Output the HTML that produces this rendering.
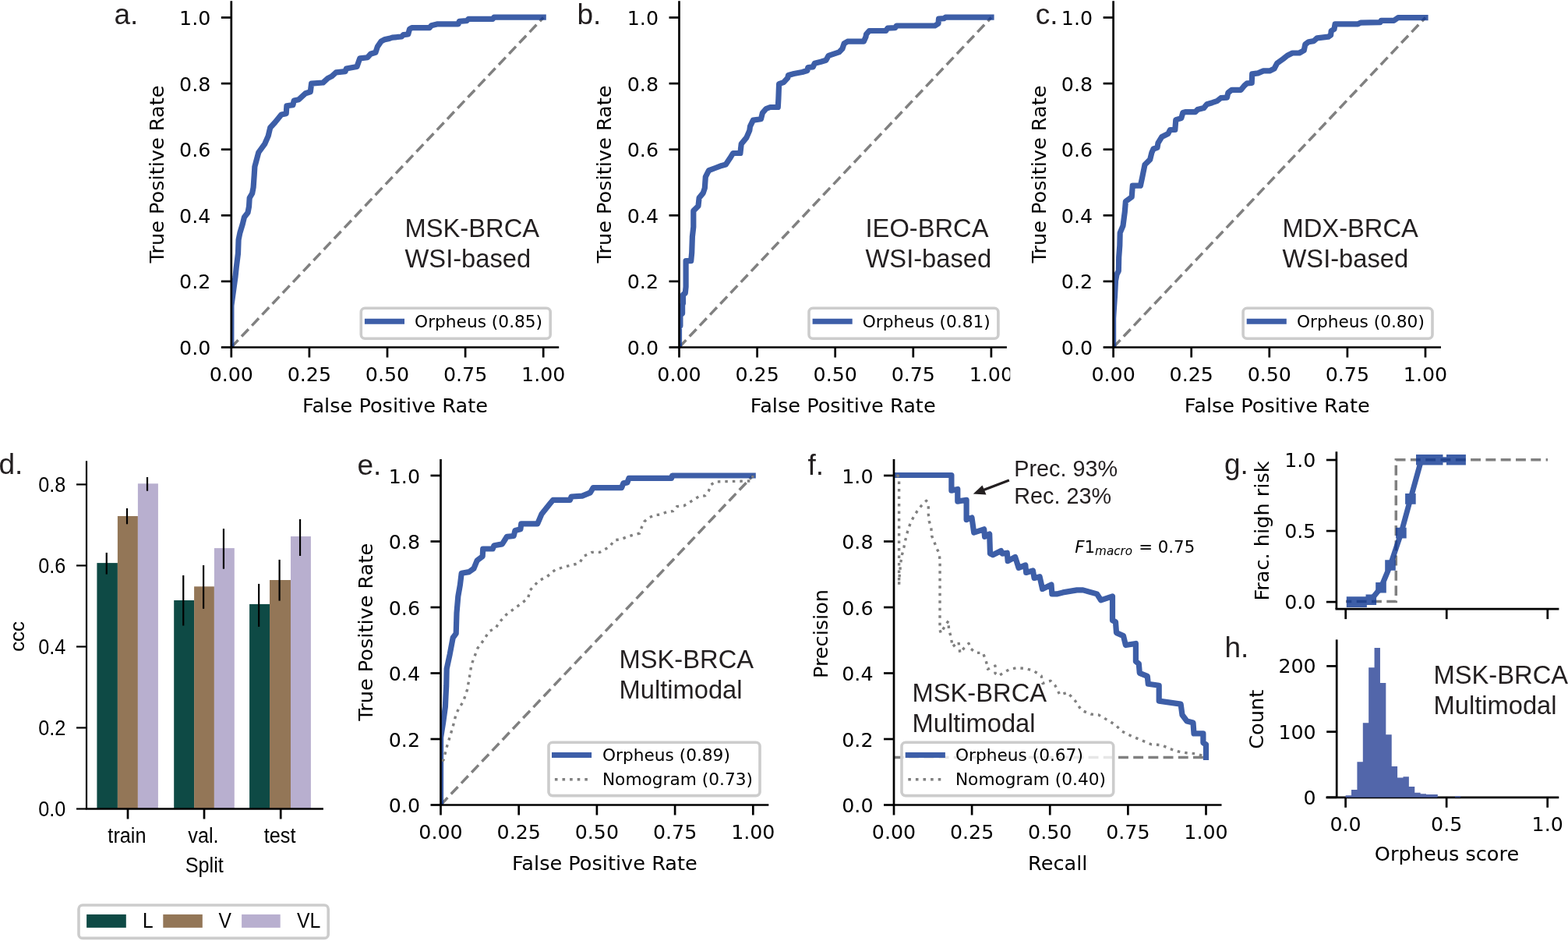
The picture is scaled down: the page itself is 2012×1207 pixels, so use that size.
<!DOCTYPE html>
<html><head><meta charset="utf-8"><title>Figure</title>
<style>html,body{margin:0;padding:0;background:#fff;overflow:hidden}svg{display:block}</style>
</head><body>
<svg width="2012" height="1207" viewBox="0 0 2012 1207">
<rect width="2012" height="1207" fill="#fff"/>
<g>
<clipPath id="c1"><rect x="296.80" y="1.35" width="420.42" height="444.15"/></clipPath>
<line x1="296.80" y1="445.50" x2="697.20" y2="22.50" stroke="#808080" stroke-width="3.5" stroke-linecap="butt" stroke-dasharray="12.9 6.3"/>
<g opacity="0.8">
<path d="M296.8,445.5 L296.9,392.0 L300.0,369.6 L302.0,355.0 L303.2,343.5 L305.5,325.0 L306.1,307.5 L307.9,298.6 L311.3,287.4 L313.5,278.4 L318.0,272.8 L319.5,265.0 L320.2,253.8 L323.6,248.2 L325.1,240.4 L326.2,224.7 L326.9,213.6 L328.1,209.2 L331.8,195.5 L339.9,184.3 L344.2,174.4 L346.7,163.8 L352.9,157.0 L361.0,147.0 L367.2,145.8 L367.9,135.8 L375.9,134.6 L377.2,129.0 L383.4,127.7 L392.1,119.7 L398.3,117.8 L399.6,107.2 L414.5,106.0 L420.7,100.4 L425.7,97.9 L431.2,92.9 L443.1,91.7 L444.3,88.0 L458.0,85.5 L461.7,74.9 L471.6,73.7 L475.4,69.3 L481.9,67.3 L484.3,60.1 L489.1,52.9 L493.9,50.6 L499.8,49.4 L503.4,48.2 L515.3,47.0 L517.7,44.6 L523.7,44.0 L525.5,37.4 L528.5,35.6 L551.1,35.6 L553.5,32.7 L560.7,30.9 L588.1,30.9 L589.3,27.3 L598.8,26.7 L601.2,24.3 L632.2,24.3 L634.0,22.2 L697.2,22.2" fill="none" stroke="#0d3692" stroke-width="7.2" stroke-linecap="square" stroke-linejoin="round"  clip-path="url(#c1)"/>
</g>
<line x1="296.80" y1="445.50" x2="296.80" y2="1.35" stroke="#000" stroke-width="2.7" stroke-linecap="butt" />
<line x1="295.45" y1="445.50" x2="717.22" y2="445.50" stroke="#000" stroke-width="2.7" stroke-linecap="butt" />
<line x1="283.80" y1="445.50" x2="296.80" y2="445.50" stroke="#000" stroke-width="2.7" stroke-linecap="butt" />
<text x="270.30" y="455.00" font-family="'DejaVu Sans', sans-serif" font-size="25.3" fill="#000" text-anchor="end">0.0</text>
<line x1="283.80" y1="360.90" x2="296.80" y2="360.90" stroke="#000" stroke-width="2.7" stroke-linecap="butt" />
<text x="270.30" y="370.40" font-family="'DejaVu Sans', sans-serif" font-size="25.3" fill="#000" text-anchor="end">0.2</text>
<line x1="283.80" y1="276.30" x2="296.80" y2="276.30" stroke="#000" stroke-width="2.7" stroke-linecap="butt" />
<text x="270.30" y="285.80" font-family="'DejaVu Sans', sans-serif" font-size="25.3" fill="#000" text-anchor="end">0.4</text>
<line x1="283.80" y1="191.70" x2="296.80" y2="191.70" stroke="#000" stroke-width="2.7" stroke-linecap="butt" />
<text x="270.30" y="201.20" font-family="'DejaVu Sans', sans-serif" font-size="25.3" fill="#000" text-anchor="end">0.6</text>
<line x1="283.80" y1="107.10" x2="296.80" y2="107.10" stroke="#000" stroke-width="2.7" stroke-linecap="butt" />
<text x="270.30" y="116.60" font-family="'DejaVu Sans', sans-serif" font-size="25.3" fill="#000" text-anchor="end">0.8</text>
<line x1="283.80" y1="22.50" x2="296.80" y2="22.50" stroke="#000" stroke-width="2.7" stroke-linecap="butt" />
<text x="270.30" y="32.00" font-family="'DejaVu Sans', sans-serif" font-size="25.3" fill="#000" text-anchor="end">1.0</text>
<line x1="296.80" y1="445.50" x2="296.80" y2="458.50" stroke="#000" stroke-width="2.7" stroke-linecap="butt" />
<text x="296.80" y="489.30" font-family="'DejaVu Sans', sans-serif" font-size="25.3" fill="#000" text-anchor="middle">0.00</text>
<line x1="396.90" y1="445.50" x2="396.90" y2="458.50" stroke="#000" stroke-width="2.7" stroke-linecap="butt" />
<text x="396.90" y="489.30" font-family="'DejaVu Sans', sans-serif" font-size="25.3" fill="#000" text-anchor="middle">0.25</text>
<line x1="497.00" y1="445.50" x2="497.00" y2="458.50" stroke="#000" stroke-width="2.7" stroke-linecap="butt" />
<text x="497.00" y="489.30" font-family="'DejaVu Sans', sans-serif" font-size="25.3" fill="#000" text-anchor="middle">0.50</text>
<line x1="597.10" y1="445.50" x2="597.10" y2="458.50" stroke="#000" stroke-width="2.7" stroke-linecap="butt" />
<text x="597.10" y="489.30" font-family="'DejaVu Sans', sans-serif" font-size="25.3" fill="#000" text-anchor="middle">0.75</text>
<line x1="697.20" y1="445.50" x2="697.20" y2="458.50" stroke="#000" stroke-width="2.7" stroke-linecap="butt" />
<text x="697.20" y="489.30" font-family="'DejaVu Sans', sans-serif" font-size="25.3" fill="#000" text-anchor="middle">1.00</text>
<text x="507.01" y="528.90" font-family="'DejaVu Sans', sans-serif" font-size="25.6" fill="#000" text-anchor="middle">False Positive Rate</text>
<text x="209.80" y="223.42" font-family="'DejaVu Sans', sans-serif" font-size="25.6" fill="#000" text-anchor="middle" transform="rotate(-90 209.80 223.42)">True Positive Rate</text>
<text x="146.40" y="30.90" font-family="'Liberation Sans', Arial, sans-serif" font-size="37" fill="#231f20" text-anchor="start">a.</text>
<text x="519.50" y="304.40" font-family="'Liberation Sans', Arial, sans-serif" font-size="32.7" fill="#231f20" text-anchor="start">MSK-BRCA</text>
<text x="519.50" y="343.20" font-family="'Liberation Sans', Arial, sans-serif" font-size="32.7" fill="#231f20" text-anchor="start">WSI-based</text>
<rect x="463.30" y="395.30" width="242.90" height="38.90" rx="5" ry="5" fill="#fff" fill-opacity="1.0" stroke="#cccccc" stroke-width="3.6"/>
<line x1="467.90" y1="412.30" x2="519.00" y2="412.30" stroke="#3d5ea8" stroke-width="7" stroke-linecap="butt" />
<text x="532.10" y="420.20" font-family="'DejaVu Sans', sans-serif" font-size="21.7" fill="#000" text-anchor="start">Orpheus (0.85)</text>
</g>
<g>
<clipPath id="c2"><rect x="871.50" y="1.35" width="420.42" height="444.15"/></clipPath>
<line x1="871.50" y1="445.50" x2="1271.90" y2="22.50" stroke="#808080" stroke-width="3.5" stroke-linecap="butt" stroke-dasharray="12.9 6.3"/>
<g opacity="0.8">
<path d="M871.5,445.0 L871.5,420.0 L872.9,418.0 L872.9,404.0 L875.6,402.0 L875.6,391.0 L876.5,389.0 L876.5,378.0 L879.3,376.0 L880.1,368.0 L880.1,334.6 L886.7,334.6 L887.7,324.2 L888.4,303.5 L889.8,291.1 L889.8,270.4 L896.0,264.2 L897.1,253.8 L902.2,247.6 L904.3,241.4 L905.3,226.9 L909.5,218.6 L917.8,215.5 L926.0,212.4 L931.3,211.1 L936.6,203.1 L940.6,196.5 L949.9,196.5 L951.2,184.6 L957.8,176.6 L961.8,167.4 L962.5,162.1 L966.4,154.1 L976.4,152.8 L978.4,144.8 L983.0,139.5 L988.3,137.5 L998.3,137.5 L998.9,126.3 L999.6,107.7 L1005.5,105.7 L1010.8,99.8 L1011.5,96.4 L1018.8,94.5 L1029.4,92.5 L1036.0,90.5 L1036.7,86.5 L1043.3,85.8 L1045.3,81.2 L1053.3,79.2 L1059.9,77.2 L1063.2,71.3 L1069.2,69.3 L1076.6,66.9 L1080.9,62.5 L1083.1,55.9 L1087.5,53.2 L1108.3,53.2 L1111.0,47.2 L1111.6,43.9 L1115.4,39.5 L1136.7,39.5 L1138.9,36.2 L1148.7,35.7 L1150.4,33.0 L1199.6,33.0 L1204.0,30.2 L1204.5,24.2 L1211.1,23.7 L1213.2,22.2 L1272.0,22.2" fill="none" stroke="#0d3692" stroke-width="7.2" stroke-linecap="square" stroke-linejoin="round"  clip-path="url(#c2)"/>
</g>
<line x1="871.50" y1="445.50" x2="871.50" y2="1.35" stroke="#000" stroke-width="2.7" stroke-linecap="butt" />
<line x1="870.15" y1="445.50" x2="1291.92" y2="445.50" stroke="#000" stroke-width="2.7" stroke-linecap="butt" />
<line x1="858.50" y1="445.50" x2="871.50" y2="445.50" stroke="#000" stroke-width="2.7" stroke-linecap="butt" />
<text x="845.00" y="455.00" font-family="'DejaVu Sans', sans-serif" font-size="25.3" fill="#000" text-anchor="end">0.0</text>
<line x1="858.50" y1="360.90" x2="871.50" y2="360.90" stroke="#000" stroke-width="2.7" stroke-linecap="butt" />
<text x="845.00" y="370.40" font-family="'DejaVu Sans', sans-serif" font-size="25.3" fill="#000" text-anchor="end">0.2</text>
<line x1="858.50" y1="276.30" x2="871.50" y2="276.30" stroke="#000" stroke-width="2.7" stroke-linecap="butt" />
<text x="845.00" y="285.80" font-family="'DejaVu Sans', sans-serif" font-size="25.3" fill="#000" text-anchor="end">0.4</text>
<line x1="858.50" y1="191.70" x2="871.50" y2="191.70" stroke="#000" stroke-width="2.7" stroke-linecap="butt" />
<text x="845.00" y="201.20" font-family="'DejaVu Sans', sans-serif" font-size="25.3" fill="#000" text-anchor="end">0.6</text>
<line x1="858.50" y1="107.10" x2="871.50" y2="107.10" stroke="#000" stroke-width="2.7" stroke-linecap="butt" />
<text x="845.00" y="116.60" font-family="'DejaVu Sans', sans-serif" font-size="25.3" fill="#000" text-anchor="end">0.8</text>
<line x1="858.50" y1="22.50" x2="871.50" y2="22.50" stroke="#000" stroke-width="2.7" stroke-linecap="butt" />
<text x="845.00" y="32.00" font-family="'DejaVu Sans', sans-serif" font-size="25.3" fill="#000" text-anchor="end">1.0</text>
<line x1="871.50" y1="445.50" x2="871.50" y2="458.50" stroke="#000" stroke-width="2.7" stroke-linecap="butt" />
<text x="871.50" y="489.30" font-family="'DejaVu Sans', sans-serif" font-size="25.3" fill="#000" text-anchor="middle">0.00</text>
<line x1="971.60" y1="445.50" x2="971.60" y2="458.50" stroke="#000" stroke-width="2.7" stroke-linecap="butt" />
<text x="971.60" y="489.30" font-family="'DejaVu Sans', sans-serif" font-size="25.3" fill="#000" text-anchor="middle">0.25</text>
<line x1="1071.70" y1="445.50" x2="1071.70" y2="458.50" stroke="#000" stroke-width="2.7" stroke-linecap="butt" />
<text x="1071.70" y="489.30" font-family="'DejaVu Sans', sans-serif" font-size="25.3" fill="#000" text-anchor="middle">0.50</text>
<line x1="1171.80" y1="445.50" x2="1171.80" y2="458.50" stroke="#000" stroke-width="2.7" stroke-linecap="butt" />
<text x="1171.80" y="489.30" font-family="'DejaVu Sans', sans-serif" font-size="25.3" fill="#000" text-anchor="middle">0.75</text>
<line x1="1271.90" y1="445.50" x2="1271.90" y2="458.50" stroke="#000" stroke-width="2.7" stroke-linecap="butt" />
<text x="1271.90" y="489.30" font-family="'DejaVu Sans', sans-serif" font-size="25.3" fill="#000" text-anchor="middle">1.00</text>
<text x="1081.71" y="528.90" font-family="'DejaVu Sans', sans-serif" font-size="25.6" fill="#000" text-anchor="middle">False Positive Rate</text>
<text x="784.50" y="223.42" font-family="'DejaVu Sans', sans-serif" font-size="25.6" fill="#000" text-anchor="middle" transform="rotate(-90 784.50 223.42)">True Positive Rate</text>
<text x="740.50" y="30.90" font-family="'Liberation Sans', Arial, sans-serif" font-size="37" fill="#231f20" text-anchor="start">b.</text>
<text x="1110.50" y="304.40" font-family="'Liberation Sans', Arial, sans-serif" font-size="32.7" fill="#231f20" text-anchor="start">IEO-BRCA</text>
<text x="1110.50" y="343.20" font-family="'Liberation Sans', Arial, sans-serif" font-size="32.7" fill="#231f20" text-anchor="start">WSI-based</text>
<rect x="1038.00" y="395.30" width="242.90" height="38.90" rx="5" ry="5" fill="#fff" fill-opacity="1.0" stroke="#cccccc" stroke-width="3.6"/>
<line x1="1042.60" y1="412.30" x2="1093.70" y2="412.30" stroke="#3d5ea8" stroke-width="7" stroke-linecap="butt" />
<text x="1106.80" y="420.20" font-family="'DejaVu Sans', sans-serif" font-size="21.7" fill="#000" text-anchor="start">Orpheus (0.81)</text>
</g>
<rect x="1296.20" y="455.00" width="12.00" height="45.00" fill="#fff" />
<g>
<clipPath id="c3"><rect x="1428.60" y="1.35" width="420.42" height="444.15"/></clipPath>
<line x1="1428.60" y1="445.50" x2="1829.00" y2="22.50" stroke="#808080" stroke-width="3.5" stroke-linecap="butt" stroke-dasharray="12.9 6.3"/>
<g opacity="0.8">
<path d="M1428.6,445.0 L1428.6,408.0 L1429.1,400.0 L1430.6,378.0 L1431.5,360.0 L1433.0,352.0 L1435.3,347.5 L1435.7,330.0 L1436.8,315.0 L1437.2,298.6 L1441.0,289.6 L1443.3,271.7 L1444.4,258.3 L1452.2,252.7 L1453.3,238.2 L1463.4,238.2 L1465.6,228.1 L1469.0,211.3 L1475.7,204.6 L1477.9,195.7 L1480.0,191.0 L1485.0,189.3 L1486.0,183.4 L1490.9,175.4 L1498.9,171.5 L1501.4,166.5 L1507.8,166.5 L1508.8,153.6 L1515.8,151.6 L1517.8,144.6 L1521.7,143.6 L1533.7,143.6 L1536.7,140.6 L1544.6,138.6 L1548.6,133.7 L1555.5,131.7 L1561.5,129.7 L1566.5,125.7 L1574.4,125.2 L1575.9,118.8 L1580.4,115.3 L1592.3,115.3 L1596.8,109.8 L1600.3,106.8 L1606.2,106.3 L1606.7,94.9 L1614.2,93.9 L1621.2,90.9 L1629.1,90.9 L1635.1,88.0 L1638.7,81.1 L1646.4,75.6 L1651.9,71.2 L1658.4,68.0 L1667.2,68.0 L1673.2,64.7 L1674.8,57.0 L1679.2,53.7 L1685.8,52.6 L1690.1,48.8 L1704.4,47.2 L1707.6,45.0 L1708.2,39.5 L1712.0,37.3 L1713.1,30.8 L1742.6,30.8 L1745.9,29.1 L1771.1,28.6 L1772.2,26.4 L1788.6,26.4 L1794.0,22.6 L1829.0,22.6" fill="none" stroke="#0d3692" stroke-width="7.2" stroke-linecap="square" stroke-linejoin="round"  clip-path="url(#c3)"/>
</g>
<line x1="1428.60" y1="445.50" x2="1428.60" y2="1.35" stroke="#000" stroke-width="2.7" stroke-linecap="butt" />
<line x1="1427.25" y1="445.50" x2="1849.02" y2="445.50" stroke="#000" stroke-width="2.7" stroke-linecap="butt" />
<line x1="1415.60" y1="445.50" x2="1428.60" y2="445.50" stroke="#000" stroke-width="2.7" stroke-linecap="butt" />
<text x="1402.10" y="455.00" font-family="'DejaVu Sans', sans-serif" font-size="25.3" fill="#000" text-anchor="end">0.0</text>
<line x1="1415.60" y1="360.90" x2="1428.60" y2="360.90" stroke="#000" stroke-width="2.7" stroke-linecap="butt" />
<text x="1402.10" y="370.40" font-family="'DejaVu Sans', sans-serif" font-size="25.3" fill="#000" text-anchor="end">0.2</text>
<line x1="1415.60" y1="276.30" x2="1428.60" y2="276.30" stroke="#000" stroke-width="2.7" stroke-linecap="butt" />
<text x="1402.10" y="285.80" font-family="'DejaVu Sans', sans-serif" font-size="25.3" fill="#000" text-anchor="end">0.4</text>
<line x1="1415.60" y1="191.70" x2="1428.60" y2="191.70" stroke="#000" stroke-width="2.7" stroke-linecap="butt" />
<text x="1402.10" y="201.20" font-family="'DejaVu Sans', sans-serif" font-size="25.3" fill="#000" text-anchor="end">0.6</text>
<line x1="1415.60" y1="107.10" x2="1428.60" y2="107.10" stroke="#000" stroke-width="2.7" stroke-linecap="butt" />
<text x="1402.10" y="116.60" font-family="'DejaVu Sans', sans-serif" font-size="25.3" fill="#000" text-anchor="end">0.8</text>
<line x1="1415.60" y1="22.50" x2="1428.60" y2="22.50" stroke="#000" stroke-width="2.7" stroke-linecap="butt" />
<text x="1402.10" y="32.00" font-family="'DejaVu Sans', sans-serif" font-size="25.3" fill="#000" text-anchor="end">1.0</text>
<line x1="1428.60" y1="445.50" x2="1428.60" y2="458.50" stroke="#000" stroke-width="2.7" stroke-linecap="butt" />
<text x="1428.60" y="489.30" font-family="'DejaVu Sans', sans-serif" font-size="25.3" fill="#000" text-anchor="middle">0.00</text>
<line x1="1528.70" y1="445.50" x2="1528.70" y2="458.50" stroke="#000" stroke-width="2.7" stroke-linecap="butt" />
<text x="1528.70" y="489.30" font-family="'DejaVu Sans', sans-serif" font-size="25.3" fill="#000" text-anchor="middle">0.25</text>
<line x1="1628.80" y1="445.50" x2="1628.80" y2="458.50" stroke="#000" stroke-width="2.7" stroke-linecap="butt" />
<text x="1628.80" y="489.30" font-family="'DejaVu Sans', sans-serif" font-size="25.3" fill="#000" text-anchor="middle">0.50</text>
<line x1="1728.90" y1="445.50" x2="1728.90" y2="458.50" stroke="#000" stroke-width="2.7" stroke-linecap="butt" />
<text x="1728.90" y="489.30" font-family="'DejaVu Sans', sans-serif" font-size="25.3" fill="#000" text-anchor="middle">0.75</text>
<line x1="1829.00" y1="445.50" x2="1829.00" y2="458.50" stroke="#000" stroke-width="2.7" stroke-linecap="butt" />
<text x="1829.00" y="489.30" font-family="'DejaVu Sans', sans-serif" font-size="25.3" fill="#000" text-anchor="middle">1.00</text>
<text x="1638.81" y="528.90" font-family="'DejaVu Sans', sans-serif" font-size="25.6" fill="#000" text-anchor="middle">False Positive Rate</text>
<text x="1341.60" y="223.42" font-family="'DejaVu Sans', sans-serif" font-size="25.6" fill="#000" text-anchor="middle" transform="rotate(-90 1341.60 223.42)">True Positive Rate</text>
<text x="1328.80" y="30.90" font-family="'Liberation Sans', Arial, sans-serif" font-size="37" fill="#231f20" text-anchor="start">c.</text>
<text x="1645.50" y="304.40" font-family="'Liberation Sans', Arial, sans-serif" font-size="32.7" fill="#231f20" text-anchor="start">MDX-BRCA</text>
<text x="1645.50" y="343.20" font-family="'Liberation Sans', Arial, sans-serif" font-size="32.7" fill="#231f20" text-anchor="start">WSI-based</text>
<rect x="1595.10" y="395.30" width="242.90" height="38.90" rx="5" ry="5" fill="#fff" fill-opacity="1.0" stroke="#cccccc" stroke-width="3.6"/>
<line x1="1599.70" y1="412.30" x2="1650.80" y2="412.30" stroke="#3d5ea8" stroke-width="7" stroke-linecap="butt" />
<text x="1663.90" y="420.20" font-family="'DejaVu Sans', sans-serif" font-size="21.7" fill="#000" text-anchor="start">Orpheus (0.80)</text>
</g>
<rect x="124.40" y="722.10" width="26.50" height="315.40" fill="#0e4a45" />
<rect x="150.90" y="662.00" width="26.00" height="375.50" fill="#937657" />
<rect x="176.90" y="620.30" width="26.00" height="417.20" fill="#b8afcf" />
<rect x="223.20" y="770.00" width="25.90" height="267.50" fill="#0e4a45" />
<rect x="249.10" y="752.30" width="25.80" height="285.20" fill="#937657" />
<rect x="274.90" y="703.10" width="25.90" height="334.40" fill="#b8afcf" />
<rect x="320.10" y="774.90" width="25.90" height="262.60" fill="#0e4a45" />
<rect x="346.00" y="744.00" width="27.00" height="293.50" fill="#937657" />
<rect x="373.00" y="688.00" width="25.90" height="349.50" fill="#b8afcf" />
<line x1="136.75" y1="708.90" x2="136.75" y2="736.60" stroke="#000" stroke-width="2.2" stroke-linecap="butt" />
<line x1="163.00" y1="652.00" x2="163.00" y2="672.30" stroke="#000" stroke-width="2.2" stroke-linecap="butt" />
<line x1="189.00" y1="612.00" x2="189.00" y2="629.70" stroke="#000" stroke-width="2.2" stroke-linecap="butt" />
<line x1="235.25" y1="738.00" x2="235.25" y2="802.50" stroke="#000" stroke-width="2.2" stroke-linecap="butt" />
<line x1="261.10" y1="725.00" x2="261.10" y2="780.80" stroke="#000" stroke-width="2.2" stroke-linecap="butt" />
<line x1="286.95" y1="678.20" x2="286.95" y2="729.70" stroke="#000" stroke-width="2.2" stroke-linecap="butt" />
<line x1="332.15" y1="748.90" x2="332.15" y2="803.90" stroke="#000" stroke-width="2.2" stroke-linecap="butt" />
<line x1="358.60" y1="717.90" x2="358.60" y2="770.60" stroke="#000" stroke-width="2.2" stroke-linecap="butt" />
<line x1="385.05" y1="666.00" x2="385.05" y2="713.00" stroke="#000" stroke-width="2.2" stroke-linecap="butt" />
<line x1="111.00" y1="1037.50" x2="111.00" y2="591.30" stroke="#000" stroke-width="2.2" stroke-linecap="butt" />
<line x1="109.90" y1="1037.50" x2="414.90" y2="1037.50" stroke="#000" stroke-width="2.7" stroke-linecap="butt" />
<line x1="98.00" y1="1037.50" x2="111.00" y2="1037.50" stroke="#000" stroke-width="2.2" stroke-linecap="butt" />
<text transform="translate(84.20 1046.70) scale(1.030 1.100)" x="0" y="0" font-family="'Liberation Sans', Arial, sans-serif" font-size="24.5" fill="#000" text-anchor="end">0.0</text>
<line x1="98.00" y1="933.48" x2="111.00" y2="933.48" stroke="#000" stroke-width="2.2" stroke-linecap="butt" />
<text transform="translate(84.20 942.68) scale(1.030 1.100)" x="0" y="0" font-family="'Liberation Sans', Arial, sans-serif" font-size="24.5" fill="#000" text-anchor="end">0.2</text>
<line x1="98.00" y1="829.46" x2="111.00" y2="829.46" stroke="#000" stroke-width="2.2" stroke-linecap="butt" />
<text transform="translate(84.20 838.66) scale(1.030 1.100)" x="0" y="0" font-family="'Liberation Sans', Arial, sans-serif" font-size="24.5" fill="#000" text-anchor="end">0.4</text>
<line x1="98.00" y1="725.44" x2="111.00" y2="725.44" stroke="#000" stroke-width="2.2" stroke-linecap="butt" />
<text transform="translate(84.20 734.64) scale(1.030 1.100)" x="0" y="0" font-family="'Liberation Sans', Arial, sans-serif" font-size="24.5" fill="#000" text-anchor="end">0.6</text>
<line x1="98.00" y1="621.42" x2="111.00" y2="621.42" stroke="#000" stroke-width="2.2" stroke-linecap="butt" />
<text transform="translate(84.20 630.62) scale(1.030 1.100)" x="0" y="0" font-family="'Liberation Sans', Arial, sans-serif" font-size="24.5" fill="#000" text-anchor="end">0.8</text>
<line x1="164.00" y1="1037.50" x2="164.00" y2="1050.50" stroke="#000" stroke-width="2.7" stroke-linecap="butt" />
<text transform="translate(162.90 1080.70) scale(1.030 1.100)" x="0" y="0" font-family="'Liberation Sans', Arial, sans-serif" font-size="24.5" fill="#000" text-anchor="middle">train</text>
<line x1="262.00" y1="1037.50" x2="262.00" y2="1050.50" stroke="#000" stroke-width="2.7" stroke-linecap="butt" />
<text transform="translate(260.90 1080.70) scale(1.030 1.100)" x="0" y="0" font-family="'Liberation Sans', Arial, sans-serif" font-size="24.5" fill="#000" text-anchor="middle">val.</text>
<line x1="360.20" y1="1037.50" x2="360.20" y2="1050.50" stroke="#000" stroke-width="2.7" stroke-linecap="butt" />
<text transform="translate(359.10 1080.70) scale(1.030 1.100)" x="0" y="0" font-family="'Liberation Sans', Arial, sans-serif" font-size="24.5" fill="#000" text-anchor="middle">test</text>
<text transform="translate(262.30 1119.40) scale(1.030 1.100)" x="0" y="0" font-family="'Liberation Sans', Arial, sans-serif" font-size="24.5" fill="#000" text-anchor="middle">Split</text>
<text transform="translate(30.80 816.40) rotate(-90) scale(1.060 1.070)" x="0" y="0" font-family="'Liberation Sans', Arial, sans-serif" font-size="24.5" fill="#000" text-anchor="middle">ccc</text>
<text x="-1.50" y="608.20" font-family="'Liberation Sans', Arial, sans-serif" font-size="37" fill="#231f20" text-anchor="start">d.</text>
<rect x="101.00" y="1161.00" width="320.20" height="42.40" rx="5" ry="5" fill="#fff" fill-opacity="1.0" stroke="#cccccc" stroke-width="3.6"/>
<rect x="111.10" y="1172.90" width="50.70" height="17.00" fill="#0e4a45" />
<text transform="translate(182.90 1190.00) scale(0.8907 1)" x="0" y="0" font-family="'Liberation Sans', Arial, sans-serif" font-size="27.5" fill="#000">L</text>
<rect x="209.30" y="1172.90" width="50.50" height="17.00" fill="#937657" />
<text transform="translate(280.49 1190.00) scale(0.8938 1)" x="0" y="0" font-family="'Liberation Sans', Arial, sans-serif" font-size="27.5" fill="#000">V</text>
<rect x="310.10" y="1172.90" width="49.60" height="17.00" fill="#b8afcf" />
<text transform="translate(380.99 1190.00) scale(0.9042 1)" x="0" y="0" font-family="'Liberation Sans', Arial, sans-serif" font-size="27.5" fill="#000">VL</text>
<clipPath id="c4"><rect x="565.50" y="588.88" width="420.84" height="443.62"/></clipPath>
<line x1="565.50" y1="1032.50" x2="966.30" y2="610.00" stroke="#808080" stroke-width="3.5" stroke-linecap="butt" stroke-dasharray="12.9 6.3"/>
<g opacity="0.8">
<path d="M565.5,1032.5 L565.6,946.0 L568.7,926.4 L571.4,906.5 L572.0,893.2 L572.7,880.0 L573.2,857.7 L577.2,839.2 L581.2,818.0 L585.2,812.7 L586.0,786.2 L587.8,765.0 L590.4,750.1 L592.2,735.3 L601.8,733.6 L607.9,729.3 L612.2,718.8 L619.2,713.6 L619.7,704.0 L632.2,704.0 L634.0,699.7 L644.4,697.9 L650.5,688.3 L659.2,687.5 L660.9,680.5 L667.9,678.8 L668.8,671.8 L689.7,671.8 L694.9,659.6 L705.3,646.6 L709.7,641.3 L731.4,641.3 L733.2,637.0 L747.1,636.1 L757.5,631.8 L761.0,625.7 L797.6,625.7 L799.9,619.9 L804.9,618.9 L806.9,613.4 L861.6,613.4 L862.6,610.0 L966.2,610.0" fill="none" stroke="#0d3692" stroke-width="7.2" stroke-linecap="square" stroke-linejoin="round"  clip-path="url(#c4)"/>
</g>
<path d="M567.5,976.5 L569.3,974.3 L573.2,958.4 L577.2,945.2 L581.2,931.9 L585.2,916.0 L589.1,908.1 L594.4,900.1 L599.7,884.2 L602.4,868.3 L605.0,852.5 L609.0,841.9 L613.0,831.3 L620.9,820.7 L627.5,810.1 L636.8,804.8 L639.5,799.5 L649.6,788.4 L663.6,778.0 L677.5,767.5 L680.1,757.1 L691.4,744.9 L701.8,739.7 L712.3,731.0 L722.7,727.5 L736.7,724.0 L743.6,722.3 L748.8,713.6 L759.3,708.4 L769.7,708.4 L781.9,701.4 L788.9,692.7 L796.5,691.9 L804.9,688.5 L812.9,686.0 L820.8,684.0 L823.3,676.5 L826.8,669.1 L831.8,664.6 L839.7,660.6 L847.7,660.1 L855.6,656.6 L863.6,655.6 L868.5,649.7 L877.5,648.7 L884.5,644.7 L890.4,640.7 L896.9,636.8 L904.8,635.8 L909.3,629.8 L912.3,621.8 L917.8,617.9 L964.0,616.9 L966.2,610.0" fill="none" stroke="#808080" stroke-width="3.4" stroke-linecap="butt" stroke-linejoin="round" stroke-dasharray="3.5 6" clip-path="url(#c4)"/>
<line x1="565.50" y1="1032.50" x2="565.50" y2="588.88" stroke="#000" stroke-width="2.7" stroke-linecap="butt" />
<line x1="564.15" y1="1032.50" x2="986.34" y2="1032.50" stroke="#000" stroke-width="2.7" stroke-linecap="butt" />
<line x1="552.50" y1="1032.50" x2="565.50" y2="1032.50" stroke="#000" stroke-width="2.7" stroke-linecap="butt" />
<text x="539.00" y="1042.00" font-family="'DejaVu Sans', sans-serif" font-size="25.3" fill="#000" text-anchor="end">0.0</text>
<line x1="552.50" y1="948.00" x2="565.50" y2="948.00" stroke="#000" stroke-width="2.7" stroke-linecap="butt" />
<text x="539.00" y="957.50" font-family="'DejaVu Sans', sans-serif" font-size="25.3" fill="#000" text-anchor="end">0.2</text>
<line x1="552.50" y1="863.50" x2="565.50" y2="863.50" stroke="#000" stroke-width="2.7" stroke-linecap="butt" />
<text x="539.00" y="873.00" font-family="'DejaVu Sans', sans-serif" font-size="25.3" fill="#000" text-anchor="end">0.4</text>
<line x1="552.50" y1="779.00" x2="565.50" y2="779.00" stroke="#000" stroke-width="2.7" stroke-linecap="butt" />
<text x="539.00" y="788.50" font-family="'DejaVu Sans', sans-serif" font-size="25.3" fill="#000" text-anchor="end">0.6</text>
<line x1="552.50" y1="694.50" x2="565.50" y2="694.50" stroke="#000" stroke-width="2.7" stroke-linecap="butt" />
<text x="539.00" y="704.00" font-family="'DejaVu Sans', sans-serif" font-size="25.3" fill="#000" text-anchor="end">0.8</text>
<line x1="552.50" y1="610.00" x2="565.50" y2="610.00" stroke="#000" stroke-width="2.7" stroke-linecap="butt" />
<text x="539.00" y="619.50" font-family="'DejaVu Sans', sans-serif" font-size="25.3" fill="#000" text-anchor="end">1.0</text>
<line x1="565.50" y1="1032.50" x2="565.50" y2="1045.50" stroke="#000" stroke-width="2.7" stroke-linecap="butt" />
<text x="565.50" y="1076.30" font-family="'DejaVu Sans', sans-serif" font-size="25.3" fill="#000" text-anchor="middle">0.00</text>
<line x1="665.70" y1="1032.50" x2="665.70" y2="1045.50" stroke="#000" stroke-width="2.7" stroke-linecap="butt" />
<text x="665.70" y="1076.30" font-family="'DejaVu Sans', sans-serif" font-size="25.3" fill="#000" text-anchor="middle">0.25</text>
<line x1="765.90" y1="1032.50" x2="765.90" y2="1045.50" stroke="#000" stroke-width="2.7" stroke-linecap="butt" />
<text x="765.90" y="1076.30" font-family="'DejaVu Sans', sans-serif" font-size="25.3" fill="#000" text-anchor="middle">0.50</text>
<line x1="866.10" y1="1032.50" x2="866.10" y2="1045.50" stroke="#000" stroke-width="2.7" stroke-linecap="butt" />
<text x="866.10" y="1076.30" font-family="'DejaVu Sans', sans-serif" font-size="25.3" fill="#000" text-anchor="middle">0.75</text>
<line x1="966.30" y1="1032.50" x2="966.30" y2="1045.50" stroke="#000" stroke-width="2.7" stroke-linecap="butt" />
<text x="966.30" y="1076.30" font-family="'DejaVu Sans', sans-serif" font-size="25.3" fill="#000" text-anchor="middle">1.00</text>
<text x="775.92" y="1115.90" font-family="'DejaVu Sans', sans-serif" font-size="25.6" fill="#000" text-anchor="middle">False Positive Rate</text>
<text x="478.50" y="810.69" font-family="'DejaVu Sans', sans-serif" font-size="25.6" fill="#000" text-anchor="middle" transform="rotate(-90 478.50 810.69)">True Positive Rate</text>
<text x="458.50" y="608.80" font-family="'Liberation Sans', Arial, sans-serif" font-size="37" fill="#231f20" text-anchor="start">e.</text>
<text x="794.50" y="857.00" font-family="'Liberation Sans', Arial, sans-serif" font-size="32.7" fill="#231f20" text-anchor="start">MSK-BRCA</text>
<text x="794.50" y="896.00" font-family="'Liberation Sans', Arial, sans-serif" font-size="32.7" fill="#231f20" text-anchor="start">Multimodal</text>
<rect x="704.00" y="952.20" width="271.00" height="68.40" rx="5" ry="5" fill="#fff" fill-opacity="1.0" stroke="#cccccc" stroke-width="3.6"/>
<line x1="708.00" y1="968.40" x2="759.10" y2="968.40" stroke="#3d5ea8" stroke-width="7" stroke-linecap="butt" />
<line x1="708.00" y1="999.80" x2="759.10" y2="999.80" stroke="#808080" stroke-width="3.5" stroke-linecap="butt" stroke-dasharray="3.6 6" stroke-dashoffset="-3.9"/>
<text x="772.90" y="976.40" font-family="'DejaVu Sans', sans-serif" font-size="21.7" fill="#000" text-anchor="start">Orpheus (0.89)</text>
<text x="772.90" y="1007.00" font-family="'DejaVu Sans', sans-serif" font-size="21.7" fill="#000" text-anchor="start">Nomogram (0.73)</text>
<clipPath id="c5"><rect x="1147.00" y="588.88" width="420.53" height="443.62"/></clipPath>
<line x1="1147.00" y1="971.40" x2="1547.50" y2="971.40" stroke="#808080" stroke-width="3.5" stroke-linecap="butt" stroke-dasharray="12.9 6.3"/>
<g opacity="0.8">
<path d="M1148.7,609.5 L1220.9,609.5 L1220.9,629.2 L1228.8,627.4 L1228.8,643.1 L1240.1,641.3 L1240.1,666.6 L1247.0,664.0 L1249.7,683.1 L1262.7,678.8 L1263.6,688.3 L1269.7,684.9 L1270.5,710.1 L1274.0,711.8 L1284.5,706.6 L1286.2,710.1 L1292.3,709.2 L1293.2,719.7 L1302.7,714.5 L1307.1,728.4 L1315.8,724.9 L1316.7,734.5 L1325.4,731.9 L1327.1,741.4 L1334.1,739.7 L1337.6,755.4 L1349.0,749.9 L1349.9,761.9 L1355.9,761.9 L1363.9,759.9 L1381.8,756.9 L1389.7,756.9 L1407.6,761.9 L1412.6,769.8 L1427.5,764.9 L1427.5,795.7 L1431.5,797.7 L1432.5,811.6 L1441.5,815.6 L1444.4,827.5 L1457.4,825.5 L1457.4,848.4 L1461.3,851.4 L1462.3,863.3 L1472.3,867.3 L1473.3,877.3 L1487.2,879.2 L1487.2,899.1 L1515.1,903.1 L1517.0,917.0 L1523.0,925.0 L1531.0,927.0 L1532.0,940.9 L1543.9,940.9 L1543.9,952.8 L1547.5,954.8 L1547.5,971.4" fill="none" stroke="#0d3692" stroke-width="7.2" stroke-linecap="square" stroke-linejoin="round"  clip-path="url(#c5)"/>
</g>
<path d="M1150.8,609.1 L1153.6,612.0 L1153.6,750.1 L1153.9,741.4 L1155.7,722.3 L1157.4,711.8 L1160.0,701.4 L1161.8,692.7 L1164.4,682.3 L1167.9,671.8 L1172.2,663.1 L1176.6,656.1 L1181.8,649.2 L1188.7,642.2 L1191.3,649.2 L1191.3,659.6 L1192.2,668.3 L1194.8,677.0 L1195.7,687.5 L1199.2,696.2 L1201.8,703.1 L1205.3,710.1 L1206.1,720.5 L1206.0,807.9 L1207.4,812.2 L1212.6,802.6 L1217.0,796.5 L1217.5,807.0 L1219.6,814.8 L1221.3,823.5 L1222.2,829.6 L1230.0,823.5 L1231.8,837.4 L1237.0,831.3 L1243.1,825.3 L1245.7,832.2 L1252.7,837.4 L1261.4,837.4 L1265.7,849.6 L1267.5,858.3 L1277.0,854.0 L1277.0,863.6 L1281.4,867.0 L1289.2,861.8 L1296.2,858.3 L1304.9,856.6 L1315.3,857.5 L1325.8,860.1 L1336.2,867.0 L1338.0,876.6 L1344.9,874.0 L1348.0,873.3 L1353.9,879.2 L1359.9,891.2 L1369.8,888.2 L1379.8,899.1 L1387.7,911.1 L1399.7,916.0 L1409.6,917.0 L1423.5,925.0 L1431.5,930.0 L1439.5,937.9 L1451.4,943.9 L1463.3,948.9 L1477.3,954.8 L1491.2,955.8 L1499.1,959.8 L1511.1,963.8 L1523.0,965.8 L1534.9,966.8 L1546.9,970.8" fill="none" stroke="#808080" stroke-width="3.4" stroke-linecap="butt" stroke-linejoin="round" stroke-dasharray="3.5 6"/>
<line x1="1147.00" y1="1032.50" x2="1147.00" y2="588.88" stroke="#000" stroke-width="2.7" stroke-linecap="butt" />
<line x1="1145.65" y1="1032.50" x2="1567.53" y2="1032.50" stroke="#000" stroke-width="2.7" stroke-linecap="butt" />
<line x1="1134.00" y1="1032.50" x2="1147.00" y2="1032.50" stroke="#000" stroke-width="2.7" stroke-linecap="butt" />
<text x="1120.50" y="1042.00" font-family="'DejaVu Sans', sans-serif" font-size="25.3" fill="#000" text-anchor="end">0.0</text>
<line x1="1134.00" y1="948.00" x2="1147.00" y2="948.00" stroke="#000" stroke-width="2.7" stroke-linecap="butt" />
<text x="1120.50" y="957.50" font-family="'DejaVu Sans', sans-serif" font-size="25.3" fill="#000" text-anchor="end">0.2</text>
<line x1="1134.00" y1="863.50" x2="1147.00" y2="863.50" stroke="#000" stroke-width="2.7" stroke-linecap="butt" />
<text x="1120.50" y="873.00" font-family="'DejaVu Sans', sans-serif" font-size="25.3" fill="#000" text-anchor="end">0.4</text>
<line x1="1134.00" y1="779.00" x2="1147.00" y2="779.00" stroke="#000" stroke-width="2.7" stroke-linecap="butt" />
<text x="1120.50" y="788.50" font-family="'DejaVu Sans', sans-serif" font-size="25.3" fill="#000" text-anchor="end">0.6</text>
<line x1="1134.00" y1="694.50" x2="1147.00" y2="694.50" stroke="#000" stroke-width="2.7" stroke-linecap="butt" />
<text x="1120.50" y="704.00" font-family="'DejaVu Sans', sans-serif" font-size="25.3" fill="#000" text-anchor="end">0.8</text>
<line x1="1134.00" y1="610.00" x2="1147.00" y2="610.00" stroke="#000" stroke-width="2.7" stroke-linecap="butt" />
<text x="1120.50" y="619.50" font-family="'DejaVu Sans', sans-serif" font-size="25.3" fill="#000" text-anchor="end">1.0</text>
<line x1="1147.00" y1="1032.50" x2="1147.00" y2="1045.50" stroke="#000" stroke-width="2.7" stroke-linecap="butt" />
<text x="1147.00" y="1076.30" font-family="'DejaVu Sans', sans-serif" font-size="25.3" fill="#000" text-anchor="middle">0.00</text>
<line x1="1247.12" y1="1032.50" x2="1247.12" y2="1045.50" stroke="#000" stroke-width="2.7" stroke-linecap="butt" />
<text x="1247.12" y="1076.30" font-family="'DejaVu Sans', sans-serif" font-size="25.3" fill="#000" text-anchor="middle">0.25</text>
<line x1="1347.25" y1="1032.50" x2="1347.25" y2="1045.50" stroke="#000" stroke-width="2.7" stroke-linecap="butt" />
<text x="1347.25" y="1076.30" font-family="'DejaVu Sans', sans-serif" font-size="25.3" fill="#000" text-anchor="middle">0.50</text>
<line x1="1447.38" y1="1032.50" x2="1447.38" y2="1045.50" stroke="#000" stroke-width="2.7" stroke-linecap="butt" />
<text x="1447.38" y="1076.30" font-family="'DejaVu Sans', sans-serif" font-size="25.3" fill="#000" text-anchor="middle">0.75</text>
<line x1="1547.50" y1="1032.50" x2="1547.50" y2="1045.50" stroke="#000" stroke-width="2.7" stroke-linecap="butt" />
<text x="1547.50" y="1076.30" font-family="'DejaVu Sans', sans-serif" font-size="25.3" fill="#000" text-anchor="middle">1.00</text>
<text x="1357.26" y="1115.90" font-family="'DejaVu Sans', sans-serif" font-size="25.6" fill="#000" text-anchor="middle">Recall</text>
<text x="1062.30" y="812.99" font-family="'DejaVu Sans', sans-serif" font-size="25.6" fill="#000" text-anchor="middle" transform="rotate(-90 1062.30 812.99)">Precision</text>
<text x="1036.60" y="608.70" font-family="'Liberation Sans', Arial, sans-serif" font-size="37" fill="#231f20" text-anchor="start">f.</text>
<text x="1170.50" y="899.80" font-family="'Liberation Sans', Arial, sans-serif" font-size="32.7" fill="#231f20" text-anchor="start">MSK-BRCA</text>
<text x="1170.50" y="939.10" font-family="'Liberation Sans', Arial, sans-serif" font-size="32.7" fill="#231f20" text-anchor="start">Multimodal</text>
<rect x="1157.00" y="952.20" width="271.70" height="68.40" rx="5" ry="5" fill="#fff" fill-opacity="0.8" stroke="#cccccc" stroke-width="3.6"/>
<line x1="1161.70" y1="968.40" x2="1212.90" y2="968.40" stroke="#3d5ea8" stroke-width="7" stroke-linecap="butt" />
<line x1="1161.70" y1="999.80" x2="1212.90" y2="999.80" stroke="#808080" stroke-width="3.5" stroke-linecap="butt" stroke-dasharray="3.6 6" stroke-dashoffset="-3.6"/>
<text x="1225.90" y="976.40" font-family="'DejaVu Sans', sans-serif" font-size="21.7" fill="#000" text-anchor="start">Orpheus (0.67)</text>
<text x="1225.90" y="1007.00" font-family="'DejaVu Sans', sans-serif" font-size="21.7" fill="#000" text-anchor="start">Nomogram (0.40)</text>
<line x1="1294.90" y1="616.10" x2="1256.00" y2="630.80" stroke="#231f20" stroke-width="3.2" stroke-linecap="butt" />
<polygon points="1248.8,633.5 1260.5,622.5 1265.5,634.5" fill="#231f20"/>
<text x="1301.20" y="610.90" font-family="'Liberation Sans', Arial, sans-serif" font-size="28.8" fill="#231f20" text-anchor="start">Prec. 93%</text>
<text x="1301.20" y="645.80" font-family="'Liberation Sans', Arial, sans-serif" font-size="28.8" fill="#231f20" text-anchor="start">Rec. 23%</text>
<text x="1379.3" y="708.8" font-family="'DejaVu Sans', sans-serif" font-size="21.3" fill="#000"><tspan font-style="italic">F</tspan><tspan>1</tspan><tspan font-style="italic" font-size="15.2" dy="2.7">macro</tspan><tspan dx="1.3" dy="-2.7"> = 0.75</tspan></text>
<line x1="1714.90" y1="781.10" x2="1714.90" y2="579.30" stroke="#000" stroke-width="2.7" stroke-linecap="butt" />
<line x1="1713.55" y1="781.10" x2="2000.40" y2="781.10" stroke="#000" stroke-width="2.7" stroke-linecap="butt" />
<line x1="1701.90" y1="772.10" x2="1714.90" y2="772.10" stroke="#000" stroke-width="2.7" stroke-linecap="butt" />
<text x="1688.40" y="781.10" font-family="'DejaVu Sans', sans-serif" font-size="25.3" fill="#000" text-anchor="end">0.0</text>
<line x1="1701.90" y1="681.05" x2="1714.90" y2="681.05" stroke="#000" stroke-width="2.7" stroke-linecap="butt" />
<text x="1688.40" y="690.05" font-family="'DejaVu Sans', sans-serif" font-size="25.3" fill="#000" text-anchor="end">0.5</text>
<line x1="1701.90" y1="590.00" x2="1714.90" y2="590.00" stroke="#000" stroke-width="2.7" stroke-linecap="butt" />
<text x="1688.40" y="599.00" font-family="'DejaVu Sans', sans-serif" font-size="25.3" fill="#000" text-anchor="end">1.0</text>
<line x1="1726.70" y1="781.10" x2="1726.70" y2="794.10" stroke="#000" stroke-width="2.7" stroke-linecap="butt" />
<line x1="1856.25" y1="781.10" x2="1856.25" y2="794.10" stroke="#000" stroke-width="2.7" stroke-linecap="butt" />
<line x1="1985.80" y1="781.10" x2="1985.80" y2="794.10" stroke="#000" stroke-width="2.7" stroke-linecap="butt" />
<path d="M1727.0,771.4 L1791.3,771.4 L1791.3,589.7 L1986.0,589.7" fill="none" stroke="#808080" stroke-width="3.5" stroke-linecap="butt" stroke-linejoin="miter" stroke-dasharray="12.9 6.4" stroke-dashoffset="5.6"/>
<g opacity="0.8">
<path d="M1734.6,772.1 L1747.1,772.1 L1759.3,769.3 L1772.0,753.7 L1784.0,725.0 L1797.9,683.6 L1809.9,639.9 L1823.8,589.8 L1834.3,589.8 L1844.7,589.8 L1862.8,589.8 L1874.1,589.8" fill="none" stroke="#0d3692" stroke-width="7" stroke-linecap="butt" stroke-linejoin="round" />
<path d="M1727.80,765.30 h13.6 v13.6 h-13.6 Z M1740.30,765.30 h13.6 v13.6 h-13.6 Z M1752.50,762.50 h13.6 v13.6 h-13.6 Z M1765.20,746.90 h13.6 v13.6 h-13.6 Z M1777.20,718.20 h13.6 v13.6 h-13.6 Z M1791.10,676.80 h13.6 v13.6 h-13.6 Z M1803.10,633.10 h13.6 v13.6 h-13.6 Z M1817.00,583.00 h13.6 v13.6 h-13.6 Z M1827.50,583.00 h13.6 v13.6 h-13.6 Z M1837.90,583.00 h13.6 v13.6 h-13.6 Z M1856.00,583.00 h13.6 v13.6 h-13.6 Z M1867.30,583.00 h13.6 v13.6 h-13.6 Z" fill="#0d3692"/>
</g>
<text x="1571.00" y="607.90" font-family="'Liberation Sans', Arial, sans-serif" font-size="37" fill="#231f20" text-anchor="start">g.</text>
<text x="1627.50" y="681.00" font-family="'DejaVu Sans', sans-serif" font-size="25.6" fill="#000" text-anchor="middle" transform="rotate(-90 1627.50 681.00)">Frac. high risk</text>
<line x1="1715.20" y1="1022.80" x2="1715.20" y2="820.40" stroke="#000" stroke-width="2.7" stroke-linecap="butt" />
<line x1="1701.50" y1="1022.80" x2="2000.30" y2="1022.80" stroke="#000" stroke-width="2.7" stroke-linecap="butt" />
<line x1="1702.20" y1="1022.80" x2="1715.20" y2="1022.80" stroke="#000" stroke-width="2.7" stroke-linecap="butt" />
<text x="1688.70" y="1031.80" font-family="'DejaVu Sans', sans-serif" font-size="25.3" fill="#000" text-anchor="end">0</text>
<line x1="1702.20" y1="938.60" x2="1715.20" y2="938.60" stroke="#000" stroke-width="2.7" stroke-linecap="butt" />
<text x="1688.70" y="947.60" font-family="'DejaVu Sans', sans-serif" font-size="25.3" fill="#000" text-anchor="end">100</text>
<line x1="1702.20" y1="854.40" x2="1715.20" y2="854.40" stroke="#000" stroke-width="2.7" stroke-linecap="butt" />
<text x="1688.70" y="863.40" font-family="'DejaVu Sans', sans-serif" font-size="25.3" fill="#000" text-anchor="end">200</text>
<line x1="1726.60" y1="1022.80" x2="1726.60" y2="1035.80" stroke="#000" stroke-width="2.7" stroke-linecap="butt" />
<text x="1726.60" y="1066.10" font-family="'DejaVu Sans', sans-serif" font-size="25.3" fill="#000" text-anchor="middle">0.0</text>
<line x1="1856.15" y1="1022.80" x2="1856.15" y2="1035.80" stroke="#000" stroke-width="2.7" stroke-linecap="butt" />
<text x="1856.15" y="1066.10" font-family="'DejaVu Sans', sans-serif" font-size="25.3" fill="#000" text-anchor="middle">0.5</text>
<line x1="1985.70" y1="1022.80" x2="1985.70" y2="1035.80" stroke="#000" stroke-width="2.7" stroke-linecap="butt" />
<text x="1985.70" y="1066.10" font-family="'DejaVu Sans', sans-serif" font-size="25.3" fill="#000" text-anchor="middle">1.0</text>
<path d="M1726.65,1022.80 L1726.65,1020.37 L1734.03,1020.37 L1734.03,1012.94 L1741.42,1012.94 L1741.42,977.14 L1748.80,977.14 L1748.80,927.29 L1756.19,927.29 L1756.19,856.22 L1763.57,856.22 L1763.57,831.03 L1770.96,831.03 L1770.96,876.11 L1778.34,876.11 L1778.34,942.14 L1785.73,942.14 L1785.73,982.98 L1793.11,982.98 L1793.11,997.56 L1800.50,997.56 L1800.50,996.23 L1807.88,996.23 L1807.88,1008.96 L1815.27,1008.96 L1815.27,1016.65 L1822.65,1016.65 L1822.65,1018.24 L1830.04,1018.24 L1830.04,1019.04 L1837.43,1019.04 L1837.43,1019.04 L1844.81,1019.04 L1844.81,1022.75 L1852.20,1022.75 L1852.20,1022.75 L1859.58,1022.75 L1859.58,1022.75 L1866.97,1022.75 L1866.97,1021.16 L1874.35,1021.16 L1874.35,1022.80 Z" fill="#5266aa"/>
<text x="1856.50" y="1103.60" font-family="'DejaVu Sans', sans-serif" font-size="25.6" fill="#000" text-anchor="middle">Orpheus score</text>
<text x="1621.50" y="922.80" font-family="'DejaVu Sans', sans-serif" font-size="25.6" fill="#000" text-anchor="middle" transform="rotate(-90 1621.50 922.80)">Count</text>
<text x="1571.50" y="842.90" font-family="'Liberation Sans', Arial, sans-serif" font-size="37" fill="#231f20" text-anchor="start">h.</text>
<text x="1839.50" y="876.90" font-family="'Liberation Sans', Arial, sans-serif" font-size="32.7" fill="#231f20" text-anchor="start">MSK-BRCA</text>
<text x="1839.50" y="915.90" font-family="'Liberation Sans', Arial, sans-serif" font-size="32.7" fill="#231f20" text-anchor="start">Multimodal</text>
</svg>
</body></html>
